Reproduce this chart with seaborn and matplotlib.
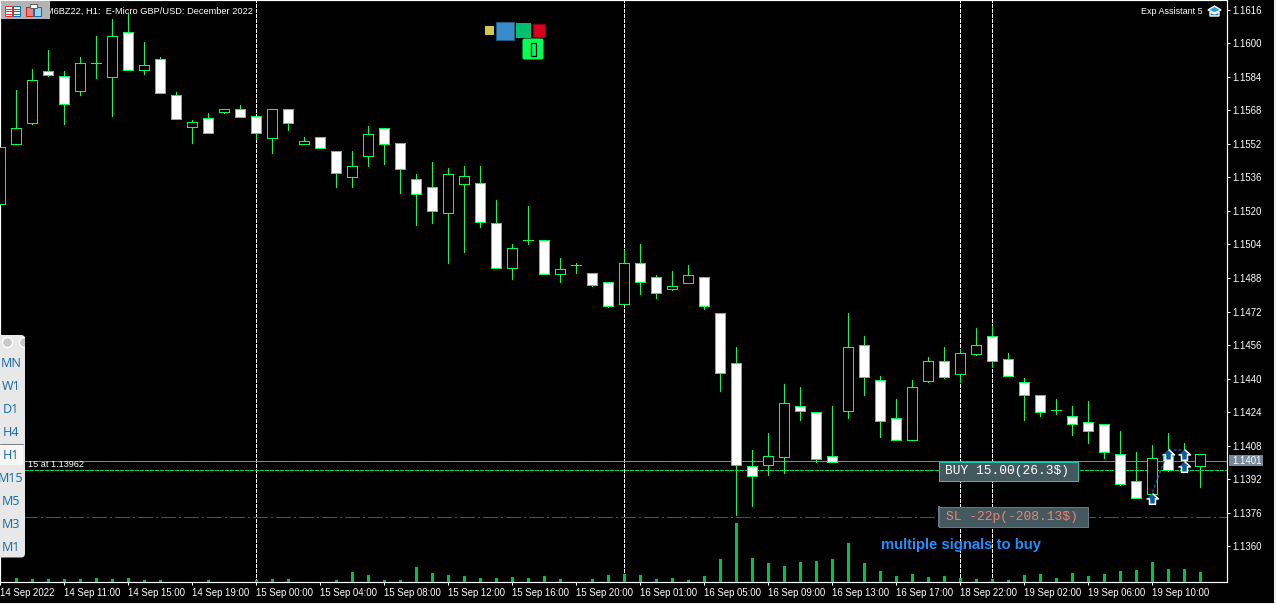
import numpy as np
import matplotlib
matplotlib.use("Agg")
import matplotlib.pyplot as plt
from matplotlib.patches import Rectangle, FancyBboxPatch, Circle, Polygon
import seaborn as sns

W, H = 1276, 604
PX = 0.72  # one pixel in points at dpi 100

open_prices = [1.15233, 1.15521, 1.15621, 1.15866, 1.15842, 1.15773, 1.15904, 1.15840, 1.16052, 1.15874,
               1.15923, 1.15751, 1.15602, 1.15642, 1.15673, 1.15685, 1.15651, 1.15549, 1.15685, 1.15521,
               1.15553, 1.15484, 1.15363, 1.15463, 1.15594, 1.15522, 1.15351, 1.15313, 1.15191, 1.15330,
               1.15332, 1.15141, 1.14929, 1.15060, 1.15060, 1.14900, 1.14941, 1.14902, 1.14859, 1.14757,
               1.14952, 1.14883, 1.14829, 1.14858, 1.14883, 1.14712, 1.14473, 1.13982, 1.13989, 1.14028,
               1.14268, 1.14239, 1.14029, 1.14247, 1.14559, 1.14392, 1.14211, 1.14109, 1.14390, 1.14483,
               1.14421, 1.14519, 1.14602, 1.14492, 1.14382, 1.14320, 1.14249, 1.14220, 1.14192, 1.14182,
               1.14039, 1.13910, 1.13848, 1.14029, 1.13983, 1.13982]
high_prices = [1.15505, 1.15777, 1.15877, 1.15968, 1.15867, 1.15934, 1.16034, 1.16115, 1.16139, 1.16006,
               1.15934, 1.15767, 1.15634, 1.15667, 1.15685, 1.15705, 1.15651, 1.15685, 1.15685, 1.15553,
               1.15553, 1.15484, 1.15486, 1.15605, 1.15594, 1.15522, 1.15376, 1.15433, 1.15405, 1.15414,
               1.15414, 1.15252, 1.15042, 1.15223, 1.15060, 1.14975, 1.14952, 1.14902, 1.14859, 1.15014,
               1.15042, 1.14894, 1.14913, 1.14942, 1.14883, 1.14712, 1.14551, 1.14060, 1.14141, 1.14374,
               1.14360, 1.14239, 1.14269, 1.14713, 1.14603, 1.14413, 1.14303, 1.14393, 1.14503, 1.14551,
               1.14541, 1.14641, 1.14652, 1.14522, 1.14403, 1.14320, 1.14303, 1.14269, 1.14293, 1.14182,
               1.14150, 1.14049, 1.14083, 1.14139, 1.14093, 1.14039]
low_prices = [1.15204, 1.15521, 1.15615, 1.15844, 1.15615, 1.15753, 1.15834, 1.15653, 1.15874, 1.15853,
              1.15764, 1.15640, 1.15524, 1.15573, 1.15667, 1.15649, 1.15543, 1.15476, 1.15586, 1.15521,
              1.15501, 1.15314, 1.15314, 1.15414, 1.15424, 1.15285, 1.15133, 1.15142, 1.14952, 1.15004,
              1.15123, 1.14929, 1.14875, 1.15042, 1.14900, 1.14861, 1.14904, 1.14842, 1.14742, 1.14757,
              1.14804, 1.14785, 1.14823, 1.14858, 1.14732, 1.14341, 1.13749, 1.13792, 1.13940, 1.13950,
              1.14203, 1.14002, 1.14001, 1.14212, 1.14322, 1.14122, 1.14109, 1.14109, 1.14384, 1.14403,
              1.14385, 1.14514, 1.14457, 1.14411, 1.14204, 1.14222, 1.14233, 1.14132, 1.14093, 1.14023,
              1.13893, 1.13829, 1.13807, 1.13958, 1.13964, 1.13884]
close_prices = [1.15505, 1.15594, 1.15823, 1.15850, 1.15711, 1.15904, 1.15904, 1.16033, 1.15874, 1.15894,
                1.15764, 1.15640, 1.15623, 1.15573, 1.15685, 1.15649, 1.15573, 1.15685, 1.15621, 1.15532,
                1.15501, 1.15382, 1.15413, 1.15565, 1.15521, 1.15401, 1.15282, 1.15201, 1.15375, 1.15365,
                1.15149, 1.14929, 1.15022, 1.15060, 1.14900, 1.14921, 1.14941, 1.14848, 1.14748, 1.14950,
                1.14859, 1.14810, 1.14840, 1.14893, 1.14748, 1.14428, 1.13989, 1.13937, 1.14029, 1.14282,
                1.14247, 1.14018, 1.14001, 1.14549, 1.14409, 1.14199, 1.14109, 1.14359, 1.14483, 1.14409,
                1.14521, 1.14559, 1.14483, 1.14411, 1.14320, 1.14239, 1.14249, 1.14182, 1.14149, 1.14049,
                1.13899, 1.13829, 1.14020, 1.13963, 1.13983, 1.14039]
volumes = [0, 4, 3, 3, 3, 3, 4, 3, 4, 2,
           2, 0, 0, 2, 0, 0, 2, 3, 3, 0,
           0, 2, 10, 7, 2, 2, 15, 9, 7, 6,
           4, 4, 5, 4, 6, 3, 0, 3, 7, 8,
           7, 3, 4, 2, 6, 23, 59, 24, 19, 16,
           20, 21, 23, 39, 19, 11, 6, 8, 5, 6,
           4, 3, 3, 2, 7, 8, 4, 9, 6, 8,
           11, 12, 20, 13, 13, 10]

time_tick_bars = list(range(0, 76, 4))
time_labels = ["14 Sep 2022", "14 Sep 11:00", "14 Sep 15:00", "14 Sep 19:00", "15 Sep 00:00",
               "15 Sep 04:00", "15 Sep 08:00", "15 Sep 12:00", "15 Sep 16:00", "15 Sep 20:00",
               "16 Sep 01:00", "16 Sep 05:00", "16 Sep 09:00", "16 Sep 13:00", "16 Sep 17:00",
               "18 Sep 22:00", "19 Sep 02:00", "19 Sep 06:00", "19 Sep 10:00"]
price_ticks = [1.1360, 1.1376, 1.1392, 1.1408, 1.1424, 1.1440, 1.1456, 1.1472, 1.1488,
               1.1504, 1.1520, 1.1536, 1.1552, 1.1568, 1.1584, 1.1600, 1.1616]
day_separators = [16, 39, 60, 62]

bid_price = 1.14008
entry_price = 1.13962
stop_price = 1.13738
signal_bars = [72, 73, 74, 74]
signal_prices = [1.13826, 1.14036, 1.14036, 1.13978]
signal_path_bars = [72, 73, 74]
signal_path_prices = [1.13859, 1.14060, 1.14060]

timeframes = ["MN", "W1", "D1", "H4", "H1", "M15", "M5", "M3", "M1"]

GREEN = "#00ff50"
VOL_GREEN = "#00c04e"
UI_FONT = ["Liberation Sans", "DejaVu Sans"]
SMALL = 6.9

sns.set_theme(style="dark", rc={
    "axes.facecolor": "black", "figure.facecolor": "black", "axes.edgecolor": "white",
    "xtick.color": "white", "ytick.color": "white", "text.color": "white",
    "axes.grid": False, "lines.scale_dashes": False,
})
plt.rcParams["font.family"] = UI_FONT

fig = plt.figure(figsize=(W / 100, H / 100), dpi=100)
ax = fig.add_axes([0, 22 / H, 1226.5 / W, 582 / H])

bars = np.arange(len(open_prices))
o = np.array(open_prices)
c = np.array(close_prices)

crisp = dict(lw=PX, snap=True, antialiased=False)
for b in day_separators:
    ax.axvline(b, color="white", dashes=(3 * PX, 2 * PX), zorder=1, **crisp)
ax.axhline(bid_price, color="#778899", zorder=1.2, **crisp)
ax.axhline(entry_price, color="#00e050", dashes=(3 * PX, 2 * PX), zorder=1.2, **crisp)
ax.axhline(stop_price, color="#e01020", dashes=(14 * PX, 4 * PX, 2 * PX, 4 * PX), zorder=1.2, **crisp)

ax.vlines(bars, low_prices, high_prices, color=GREEN, zorder=2, linewidth=PX, antialiased=False).set_snap(True)
ax.bar(bars, np.abs(c - o), bottom=np.minimum(o, c), width=0.625,
       color=["white" if x < y else "black" for x, y in zip(c, o)],
       edgecolor=GREEN, linewidth=PX, zorder=3, snap=True, antialiased=False)

ax.plot(signal_path_bars, signal_path_prices, color="#0f5f9c", lw=PX * 1.3,
        dashes=(3 * PX, 2 * PX), zorder=4)
arrow = [(0, 1), (1, 0.1), (0.5, 0.1), (0.5, -0.8), (-0.5, -0.8), (-0.5, 0.1), (-1, 0.1)]
ax.scatter(signal_bars, signal_prices, marker=arrow, s=75, color="#0b5c9e",
           edgecolors="white", linewidths=1.1, zorder=5)

ax_vol = ax.twinx()
sns.barplot(x=bars, y=volumes, ax=ax_vol, native_scale=True, width=0.14,
            color=VOL_GREEN, saturation=1, linewidth=0, antialiased=False)
ax_vol.set_ylim(0, 582)
ax_vol.yaxis.set_visible(False)
ax_vol.xaxis.set_visible(False)
ax_vol.patch.set_visible(False)
for s in ax_vol.spines.values():
    s.set_visible(False)

ax.set_xlim(-0.03, 76.625)
ax.set_ylim(1.13430, 1.16206)
ax.set_xticks(time_tick_bars, time_labels, ha="left", fontsize=SMALL)
ax.yaxis.tick_right()
ax.set_yticks(price_ticks, [f"{p:.4f}" for p in price_ticks], fontsize=SMALL)
ax.tick_params(axis="both", length=3 * PX, width=PX, color="white", bottom=True, right=True, left=False)
ax.tick_params(axis="x", pad=2.5)
ax.tick_params(axis="y", pad=2)
for s in ax.spines.values():
    s.set_color("white")
    s.set_linewidth(PX * 1.2)

# everything below is window furniture, placed in screen pixels
ui = fig.add_axes([0, 0, 1, 1], zorder=10)
ui.set_xlim(0, W)
ui.set_ylim(H, 0)
ui.axis("off")


def box(x0, y0, x1, y1, fc, ec="none", lw=0, z=2):
    ui.add_patch(Rectangle((x0, y0), x1 - x0, y1 - y0, fc=fc, ec=ec, lw=lw * PX, zorder=z))


ui.text(46, 11.5, "M6BZ22, H1:  E-Micro GBP/USD: December 2022", fontsize=6.7, va="center", zorder=1)
ui.text(1203, 11.5, "Exp Assistant 5", fontsize=6.5, va="center", ha="right")
ui.add_patch(Polygon([(1208, 10), (1214.5, 6), (1221, 10), (1214.5, 13)], fc="#2aa0d8", zorder=2))
ui.add_patch(Polygon([(1210, 12), (1214.5, 14), (1219, 12), (1219, 16), (1210, 16)], fc="#1c7fb0", zorder=2))

# toolbar
box(1, 1, 50, 18.5, "#b4b4b4")
box(5, 6, 12, 16, "white", "#e03030", 1, 3)
box(13, 6, 19.5, 16, "white", "#1070b0", 1, 3)
for yy in (8.5, 11, 13.5):
    ui.plot([6, 11], [yy, yy], color="#e03030", lw=PX, zorder=4)
    ui.plot([14, 19], [yy, yy], color="#1070b0", lw=PX, zorder=4)
box(26, 7, 33, 16, "#f08080", "#d02020", 1, 3)
box(34, 7, 40.5, 16, "#9cd0f0", "#1070b0", 1, 3)
box(30, 4, 37, 8, "white", "#606060", 1, 4)

# coloured squares of the expert panel
box(485, 26, 494, 35, "#d4c84a")
box(496, 21.5, 513.5, 39.5, "#388ccb", "#1f5a85", 1)
box(516, 23, 531, 38, "#00c070")
box(533, 24, 545, 37, "#d9001b", "#8a0010", 1)
ui.add_patch(FancyBboxPatch((523, 39), 20, 20, boxstyle="round,pad=0,rounding_size=1.5", fc="#00ff55", ec="#00ff55", lw=PX, zorder=2))
box(530.5, 42.5, 535.5, 55.5, "#00ff55", "black", 1.2, 3)

# timeframe panel
ui.add_patch(FancyBboxPatch((-8, 335), 33, 222.5, boxstyle="round,pad=0,rounding_size=4", fc="#e8e8e8", ec="none", zorder=2))
ui.add_patch(Circle((7.5, 342.5), 5, fc="#c8c8c8", zorder=3))
ui.add_patch(Circle((24.5, 342.5), 5, fc="#c8c8c8", zorder=3))
box(25, 335, 31, 352, "black", z=4)
box(0, 444, 23, 464.5, "#f6f6f6", z=3)
ui.plot([0, 23], [444, 444], color="#808080", lw=PX, zorder=4)
tf_y = [363.2, 386.2, 409.2, 432.2, 455.7, 478.2, 501.7, 524.2, 547.7]
for label, yy in zip(timeframes, tf_y):
    ui.text(11, yy, label, color="#1f70a8", fontsize=9, ha="center", va="center",
            family=["Noto Sans", "DejaVu Sans"], zorder=5)

ui.text(28, 464.5, f"15 at {entry_price:.5f}", fontsize=6.6, va="center")

# trade labels
box(938.5, 461.5, 1077.5, 480.5, "#44595f", "#20c8a8", 1)
ui.text(945, 471, "BUY 15.00(26.3$)", color="white", fontsize=9.3, va="center",
        family=["Liberation Mono", "DejaVu Sans Mono"])
box(938.5, 507, 1087.5, 526.5, "#44595f", "#66767c", 1)
box(938, 506, 940, 527, "#66767c", z=3)
ui.text(945.5, 517, "SL -22p(-208.13$)", color="#f08070", fontsize=9.4, va="center",
        family=["Liberation Mono", "DejaVu Sans Mono"])
ui.text(881, 544.5, "multiple signals to buy", color="#1e90ff", fontsize=10.7, weight="bold", va="center")

# current price tag
box(1229, 455, 1263, 466, "#778899")
ui.text(1232, 460.5, f"{bid_price:.4f}", fontsize=SMALL, va="center", color="white", zorder=5)

# window edge
box(0, 602.5, W, H, "#f0f0f0")
box(1274, 0, W, H, "#f0f0f0")

fig.savefig("out.png", dpi=100, facecolor="black")
